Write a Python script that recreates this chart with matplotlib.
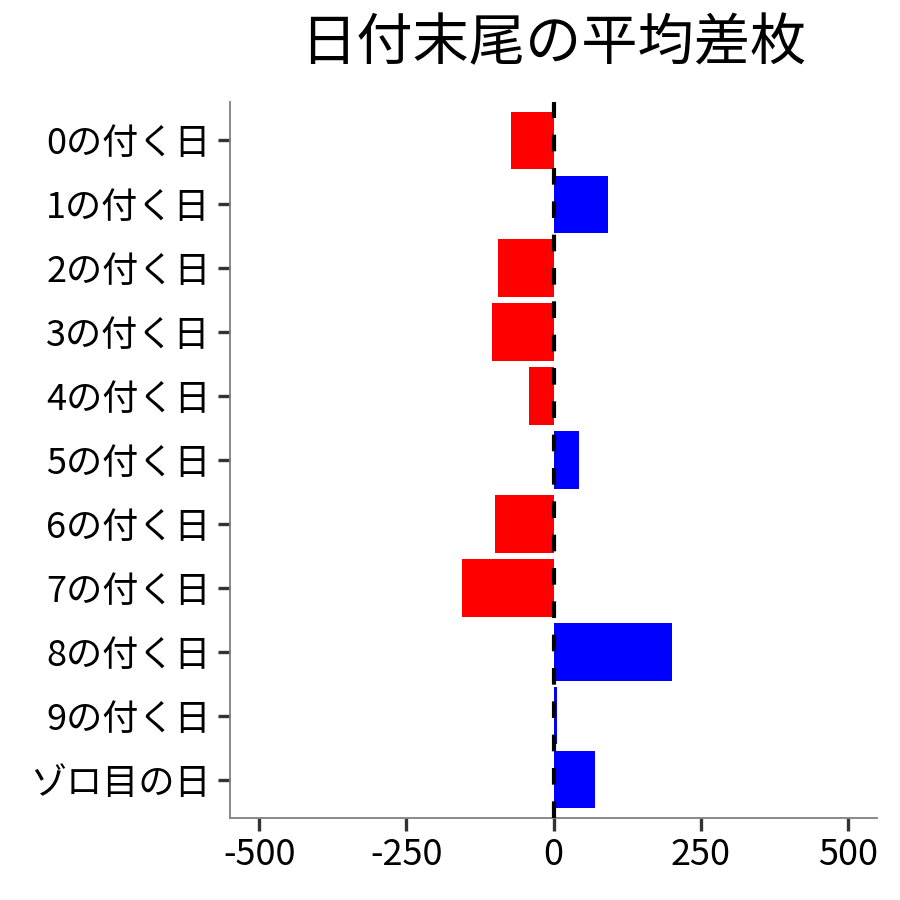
import matplotlib
matplotlib.use("Agg")
import matplotlib.pyplot as plt

plt.rcParams['font.family'] = ['Noto Sans CJK JP', 'DejaVu Sans']

# data
labels = ['0の付く日', '1の付く日', '2の付く日', '3の付く日', '4の付く日',
          '5の付く日', '6の付く日', '7の付く日', '8の付く日', '9の付く日',
          'ゾロ目の日']
diffs = [-73, 93, -94, -105, -41, 44, -100, -155, 202, 6, 71]
xticks = [-500, -250, 0, 250, 500]

colors = ['#FF0000' if v < 0 else '#0000FF' for v in diffs]

fig = plt.figure(figsize=(9, 9), dpi=100)
ax = fig.add_axes([230/900, 82/900, 647/900, 716/900])

pos = list(range(len(labels)))
ax.barh(pos, diffs, height=0.9, color=colors, zorder=2)
ax.axvline(0, color='black', lw=3, linestyle=(0, (4, 4)), zorder=3)

ax.set_xlim(-550, 550)
ax.set_ylim(len(labels) - 0.4, -0.6)
ax.set_yticks(pos)
ax.set_yticklabels(labels)
ax.set_xticks(xticks)
ax.set_xticklabels([str(t) for t in xticks])

for s in ['top', 'right']:
    ax.spines[s].set_visible(False)
for s in ['left', 'bottom']:
    ax.spines[s].set_color('#808080')
    ax.spines[s].set_linewidth(1.3)

ax.tick_params(axis='both', length=9, width=2.4, color='#333333',
               labelsize=26, labelcolor='black', pad=5)

ax.set_title('日付末尾の平均差枚', fontsize=40.5, pad=30)

fig.savefig('out.png', dpi=100)
